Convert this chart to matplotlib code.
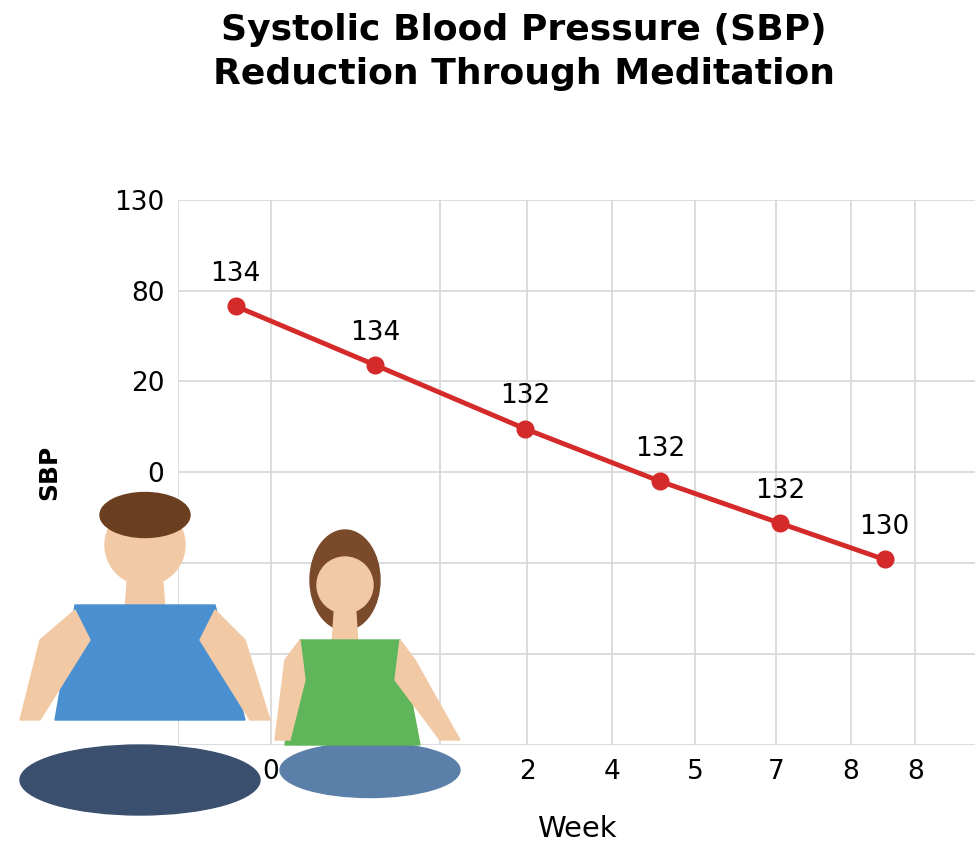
import matplotlib.pyplot as plt
from matplotlib.patches import Circle, Polygon, Ellipse

# data (in grid units of the drawn axes)
week_pos = [0.65, 2.24, 3.94, 5.48, 6.84, 8.03]
sbp_pos = [4.83, 4.18, 3.48, 2.90, 2.44, 2.04]
sbp_labels = ["134", "134", "132", "132", "132", "130"]
x_tick_pos = [1.05, 2.98, 3.97, 4.93, 5.88, 6.80, 7.65, 8.38]
x_tick_labels = ["0", "3", "2", "4", "5", "7", "8", "8"]
y_tick_pos = [6, 5, 4, 3, 2, 1, 0]
y_tick_labels = ["130", "80", "20", "0", "", "", ""]

fig = plt.figure(figsize=(9.8, 8.65), dpi=100)
ax = fig.add_axes([0.182, 0.139, 0.813, 0.63])

ax.plot(week_pos, sbp_pos, color="#d42a2a", lw=3.5, marker="o", ms=12, zorder=3)
for x, y, t in zip(week_pos, sbp_pos, sbp_labels):
    ax.annotate(t, (x, y), xytext=(0, 14), textcoords="offset points",
                ha="center", va="bottom", fontsize=19)

ax.set_xlim(0, 9.06)
ax.set_ylim(0, 6)
ax.set_xticks(x_tick_pos)
ax.set_xticklabels(x_tick_labels, fontsize=19)
ax.set_yticks(y_tick_pos)
ax.set_yticklabels(y_tick_labels, fontsize=19)
ax.tick_params(length=0, pad=10)
ax.grid(True, color="#d9d9d9", lw=1.3)
ax.axvline(0, color="#d9d9d9", lw=1.3)
for s in ax.spines.values():
    s.set_visible(False)
ax.set_xlabel("Week", fontsize=21, labelpad=22)
ax.set_ylabel("SBP", fontsize=18, fontweight="bold", labelpad=38)

fig.text(0.535, 0.94, "Systolic Blood Pressure (SBP)\nReduction Through Meditation",
         ha="center", va="center", fontsize=26, fontweight="bold", linespacing=1.35)

# rough meditating figures (figure pixel coords)
ov = fig.add_axes([0, 0, 1, 1], zorder=5)
ov.set_xlim(0, 980)
ov.set_ylim(865, 0)
ov.axis("off")
# man
ov.add_patch(Polygon([[128, 570], [162, 570], [165, 610], [125, 610]], color="#f2c9a5"))
ov.add_patch(Ellipse((140, 780), 240, 70, color="#3b4f6e"))
ov.add_patch(Polygon([[75, 605], [215, 605], [245, 720], [55, 720]], color="#4a8fd0"))
ov.add_patch(Polygon([[40, 640], [75, 610], [90, 640], [40, 720], [20, 720]], color="#f2c9a5"))
ov.add_patch(Polygon([[245, 640], [215, 610], [200, 640], [250, 720], [270, 720]], color="#f2c9a5"))
ov.add_patch(Circle((145, 545), 40, color="#f2c9a5"))
ov.add_patch(Ellipse((145, 515), 90, 45, color="#6b3e1f"))
# woman
ov.add_patch(Ellipse((345, 580), 70, 100, color="#7a4a2a"))
ov.add_patch(Polygon([[335, 600], [355, 600], [358, 645], [332, 645]], color="#f2c9a5"))
ov.add_patch(Ellipse((370, 770), 180, 55, color="#5a7fa8"))
ov.add_patch(Polygon([[300, 640], [400, 640], [420, 745], [285, 745]], color="#5fb55a"))
ov.add_patch(Polygon([[285, 660], [300, 640], [305, 680], [290, 740], [275, 740]], color="#f2c9a5"))
ov.add_patch(Polygon([[415, 660], [400, 640], [395, 680], [440, 740], [460, 740]], color="#f2c9a5"))
ov.add_patch(Circle((345, 585), 28, color="#f2c9a5"))

fig.savefig("out.png", dpi=100)
